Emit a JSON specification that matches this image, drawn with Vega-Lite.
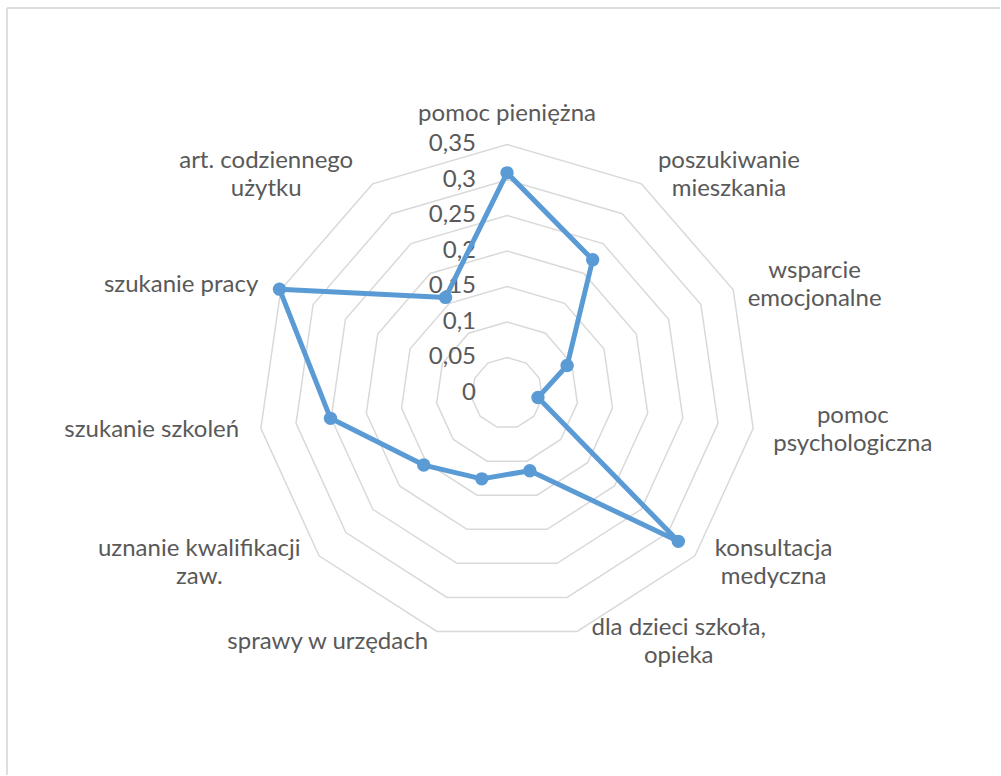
{
  "$schema": "https://vega.github.io/schema/vega-lite/v6.json",
  "width": 1001,
  "height": 776,
  "autosize": {"type": "fit", "contains": "padding"},
  "padding": {"left": 6, "top": 7, "right": 0, "bottom": 0},
  "background": "white",
  "config": {
    "view": {"stroke": null},
    "locale": {"number": {"decimal": ",", "thousands": " ", "grouping": [3], "currency": ["", " zł"]}}
  },
  "datasets": {
    "series": [
      {"k": 0, "cat": "pomoc pieniężna", "v": 0.31},
      {"k": 1, "cat": "poszukiwanie\nmieszkania", "v": 0.223},
      {"k": 2, "cat": "wsparcie\nemocjonalne", "v": 0.093},
      {"k": 3, "cat": "pomoc\npsychologiczna", "v": 0.044},
      {"k": 4, "cat": "konsultacja\nmedyczna", "v": 0.319},
      {"k": 5, "cat": "dla dzieci szkoła,\nopieka", "v": 0.114},
      {"k": 6, "cat": "sprawy w urzędach", "v": 0.126},
      {"k": 7, "cat": "uznanie kwalifikacji\nzaw.", "v": 0.155},
      {"k": 8, "cat": "szukanie szkoleń", "v": 0.251},
      {"k": 9, "cat": "szukanie pracy", "v": 0.352},
      {"k": 10, "cat": "art. codziennego\nużytku", "v": 0.16}
    ],
    "grid": [
      {"lvl": 0.05, "k": [0, 1, 2, 3, 4, 5, 6, 7, 8, 9, 10]},
      {"lvl": 0.1, "k": [0, 1, 2, 3, 4, 5, 6, 7, 8, 9, 10]},
      {"lvl": 0.15, "k": [0, 1, 2, 3, 4, 5, 6, 7, 8, 9, 10]},
      {"lvl": 0.2, "k": [0, 1, 2, 3, 4, 5, 6, 7, 8, 9, 10]},
      {"lvl": 0.25, "k": [0, 1, 2, 3, 4, 5, 6, 7, 8, 9, 10]},
      {"lvl": 0.3, "k": [0, 1, 2, 3, 4, 5, 6, 7, 8, 9, 10]},
      {"lvl": 0.35, "k": [0, 1, 2, 3, 4, 5, 6, 7, 8, 9, 10]}
    ],
    "ticks": [
      {"val": 0}, {"val": 0.05}, {"val": 0.1}, {"val": 0.15},
      {"val": 0.2}, {"val": 0.25}, {"val": 0.3}, {"val": 0.35}
    ]
  },
  "layer": [
    {
      "data": {"values": [{}]},
      "mark": {"type": "rule", "stroke": "#dedede", "strokeWidth": 2},
      "encoding": {
        "x": {"datum": -0.7037, "type": "quantitative", "scale": {"domain": [-0.7037, 0.6938], "zero": false, "nice": false}, "axis": null}
      }
    },
    {
      "data": {"values": [{}]},
      "mark": {"type": "rule", "stroke": "#dedede", "strokeWidth": 2},
      "encoding": {
        "y": {"datum": 0.5421, "type": "quantitative", "scale": {"domain": [-0.5379, 0.5421], "zero": false, "nice": false}, "axis": null}
      }
    },
    {
      "data": {"name": "grid"},
      "transform": [
        {"flatten": ["k"]},
        {"calculate": "datum.k * 2 * PI / 11", "as": "t"},
        {"calculate": "datum.lvl * sin(datum.t)", "as": "px"},
        {"calculate": "datum.lvl * cos(datum.t)", "as": "py"}
      ],
      "mark": {"type": "line", "interpolate": "linear-closed", "stroke": "#d9d9d9", "strokeWidth": 1.5},
      "encoding": {
        "x": {"field": "px", "type": "quantitative", "scale": {"domain": [-0.7037, 0.6938], "zero": false, "nice": false}, "axis": null},
        "y": {"field": "py", "type": "quantitative", "scale": {"domain": [-0.5379, 0.5421], "zero": false, "nice": false}, "axis": null},
        "detail": {"field": "lvl"},
        "order": {"field": "k"}
      }
    },
    {
      "data": {"name": "ticks"},
      "mark": {"type": "text", "align": "right", "baseline": "middle", "dx": -31, "font": "Lato", "fontSize": 24, "color": "#595959"},
      "encoding": {
        "x": {"datum": 0, "type": "quantitative", "scale": {"domain": [-0.7037, 0.6938], "zero": false, "nice": false}, "axis": null},
        "y": {"field": "val", "type": "quantitative", "scale": {"domain": [-0.5379, 0.5421], "zero": false, "nice": false}, "axis": null},
        "text": {"field": "val", "type": "quantitative", "format": "~g"}
      }
    },
    {
      "data": {"name": "series"},
      "transform": [
        {"calculate": "datum.k * 2 * PI / 11", "as": "t"},
        {"calculate": "datum.v * sin(datum.t)", "as": "px"},
        {"calculate": "datum.v * cos(datum.t)", "as": "py"}
      ],
      "mark": {"type": "line", "interpolate": "linear-closed", "stroke": "#5b9bd5", "strokeWidth": 5, "strokeJoin": "round"},
      "encoding": {
        "x": {"field": "px", "type": "quantitative", "scale": {"domain": [-0.7037, 0.6938], "zero": false, "nice": false}, "axis": null},
        "y": {"field": "py", "type": "quantitative", "scale": {"domain": [-0.5379, 0.5421], "zero": false, "nice": false}, "axis": null},
        "order": {"field": "k"}
      }
    },
    {
      "data": {"name": "series"},
      "transform": [
        {"calculate": "datum.k * 2 * PI / 11", "as": "t"},
        {"calculate": "datum.v * sin(datum.t)", "as": "px"},
        {"calculate": "datum.v * cos(datum.t)", "as": "py"}
      ],
      "mark": {"type": "circle", "color": "#5b9bd5", "opacity": 1, "size": 180},
      "encoding": {
        "x": {"field": "px", "type": "quantitative", "scale": {"domain": [-0.7037, 0.6938], "zero": false, "nice": false}, "axis": null},
        "y": {"field": "py", "type": "quantitative", "scale": {"domain": [-0.5379, 0.5421], "zero": false, "nice": false}, "axis": null}
      }
    },
    {
      "data": {"name": "series"},
      "transform": [
        {"calculate": "split(datum.cat, '\\n')", "as": "lines"},
        {"calculate": "datum.lines[0]", "as": "l0"},
        {"calculate": "datum.lines.length > 1 ? datum.lines[1] : ''", "as": "l1"},
        {"calculate": "length(datum.l0) - 0.45 * (length(datum.l0) - length(replace(datum.l0, regexp('[iljtfł,. ]', 'g'), '')))", "as": "w0"},
        {"calculate": "length(datum.l1) - 0.45 * (length(datum.l1) - length(replace(datum.l1, regexp('[iljtfł,. ]', 'g'), '')))", "as": "w1"},
        {"calculate": "max(datum.w0, datum.w1)", "as": "w"},
        {"calculate": "datum.k * 2 * PI / 11", "as": "t"},
        {"calculate": "sin(datum.t)", "as": "s"},
        {"calculate": "cos(datum.t)", "as": "c"},
        {"calculate": "0.35 * datum.s + (datum.s > 0.01 ? 1 : (datum.s < -0.01 ? -1 : 0)) * (0.028 * min(1, 2 * abs(datum.s)) + datum.w * 0.00857)", "as": "lx"},
        {"calculate": "0.365 * datum.c + (datum.c > 0.95 ? 0.028 : 0) + (datum.lines.length - 1) * 0.0197", "as": "ly"}
      ],
      "mark": {"type": "text", "align": "center", "baseline": "middle", "lineBreak": "\n", "lineHeight": 28, "font": "Lato", "fontSize": 24, "color": "#595959"},
      "encoding": {
        "x": {"field": "lx", "type": "quantitative", "scale": {"domain": [-0.7037, 0.6938], "zero": false, "nice": false}, "axis": null},
        "y": {"field": "ly", "type": "quantitative", "scale": {"domain": [-0.5379, 0.5421], "zero": false, "nice": false}, "axis": null},
        "text": {"field": "cat"}
      }
    }
  ]
}
